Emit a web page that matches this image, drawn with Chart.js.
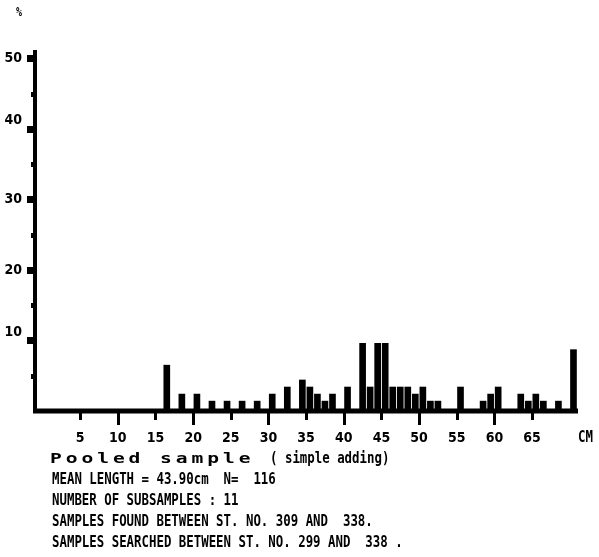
<!DOCTYPE html>
<html>
<head>
<meta charset="utf-8">
<script src="https://cdn.jsdelivr.net/npm/chart.js@4"></script>
<style>
  html, body { margin: 0; padding: 0; background: #fff; }
  #wrap { position: relative; width: 599px; height: 557px; overflow: hidden; }
  #wrap canvas { position: absolute; left: 0; top: 0; }
  .t { position: absolute; white-space: pre; color: #000; font-family: "DejaVu Sans Mono", monospace; font-weight: bold; }
  .mono { font-size: 12.4px; line-height: 12px; transform: scaleY(1.25); transform-origin: left center; }
  .big { font-size: 14px; line-height: 14px; letter-spacing: 2.8px; transform: scaleX(1.4); transform-origin: left center; }
</style>
</head>
<body>
<div id="wrap">
  <canvas id="c" width="599" height="557"></canvas>
  <div class="t mono" style="left:16px; top:6px; font-size:10px;">%</div>
  <div class="t mono" style="left:578px; top:431px;">CM</div>
  <div class="t big" style="left:50px; top:451px;">Pooled sample</div>
  <div class="t mono" style="left:270px; top:452px;">( simple adding)</div>
  <div class="t mono" style="left:52px; top:473px;">MEAN LENGTH = 43.90cm  N=  116</div>
  <div class="t mono" style="left:52px; top:494px;">NUMBER OF SUBSAMPLES : 11</div>
  <div class="t mono" style="left:52px; top:515px;">SAMPLES FOUND BETWEEN ST. NO. 309 AND  338.</div>
  <div class="t mono" style="left:52px; top:536px;">SAMPLES SEARCHED BETWEEN ST. NO. 299 AND  338 .</div>
</div>
<script>
// Length classes (lower bound, cm) and percentage of the pooled sample
const lengthsCm = [16, 18, 20, 22, 24, 26, 28, 30, 32, 34, 35, 36, 37, 38, 40, 42, 43, 44, 45, 46, 47, 48, 49, 50, 51, 52, 55, 58, 59, 60, 63, 64, 65, 66, 68, 70];
const percentValues = [6.5, 2.4, 2.4, 1.4, 1.4, 1.4, 1.4, 2.4, 3.4, 4.4, 3.4, 2.4, 1.4, 2.4, 3.4, 9.6, 3.4, 9.6, 9.6, 3.4, 3.4, 3.4, 2.4, 3.4, 1.4, 1.4, 3.4, 1.4, 2.4, 3.4, 2.4, 1.4, 2.4, 1.4, 1.4, 8.7];
const xTickLabels = [5, 10, 15, 20, 25, 30, 35, 40, 45, 50, 55, 60, 65];
const yTickLabels = [10, 20, 30, 40, 50];
const yMinorTicks = [5, 15, 25, 35, 45];
const yLabelsRaised = [10, 40]; // printed slightly above their tick in the original
const CLASS_WIDTH = 1;

const points = lengthsCm.map((cm, i) => ({ x: cm + CLASS_WIDTH / 2, y: percentValues[i] }));

const axisPlugin = {
  id: 'axisPlugin',
  afterDraw(chart) {
    const { ctx, chartArea, scales: { x, y } } = chart;
    ctx.save();
    ctx.fillStyle = '#000';
    const y0 = y.getPixelForValue(0);
    ctx.fillRect(chartArea.left - 2, chartArea.top, 4, y0 - chartArea.top + 2);
    ctx.fillRect(chartArea.left - 2, y0 - 2.5, chartArea.right - chartArea.left + 2, 5);
    xTickLabels.forEach(v => {
      const px = x.getPixelForValue(v);
      const len = v % 10 === 0 ? 14 : 9;
      ctx.fillRect(Math.round(px) - 1, y0, 3, len);
    });
    yTickLabels.forEach(v => {
      const py = y.getPixelForValue(v);
      ctx.fillRect(chartArea.left - 8, Math.round(py) - 3, 7, 7);
    });
    yMinorTicks.forEach(v => {
      const py = y.getPixelForValue(v);
      ctx.fillRect(chartArea.left - 4, Math.round(py) - 2, 3, 5);
    });
    ctx.restore();
  }
};

Chart.defaults.font.family = '"DejaVu Sans Condensed", "Liberation Sans Narrow", sans-serif';
Chart.defaults.font.weight = 'bold';
Chart.defaults.color = '#000';

new Chart(document.getElementById('c'), {
  type: 'bar',
  data: {
    datasets: [{
      data: points,
      backgroundColor: '#000',
      borderWidth: 0,
      barThickness: 6
    }]
  },
  options: {
    responsive: false,
    animation: false,
    events: [],
    layout: { padding: { top: 50, right: 21, left: 0, bottom: 0 } },
    plugins: { legend: { display: false }, tooltip: { enabled: false }, title: { display: false } },
    scales: {
      x: {
        type: 'linear',
        offset: false,
        min: -1,
        max: 71.1,
        grid: { display: false, drawTicks: false },
        border: { display: false },
        ticks: { padding: 19, font: { size: 14 }, maxRotation: 0, autoSkip: false },
        afterBuildTicks: (scale) => { scale.ticks = xTickLabels.map(v => ({ value: v })); },
        afterFit: (scale) => { scale.height = 557 - 411; }
      },
      y: {
        min: 0,
        max: 51.2,
        grid: { display: false, drawTicks: false },
        border: { display: false },
        ticks: {
          padding: 13,
          font: { size: 14 },
          callback: (v) => yLabelsRaised.includes(v) ? [String(v), ''] : String(v)
        },
        afterBuildTicks: (scale) => { scale.ticks = yTickLabels.map(v => ({ value: v })); },
        afterFit: (scale) => { scale.width = 35; }
      }
    }
  },
  plugins: [axisPlugin]
});
</script>
</body>
</html>
